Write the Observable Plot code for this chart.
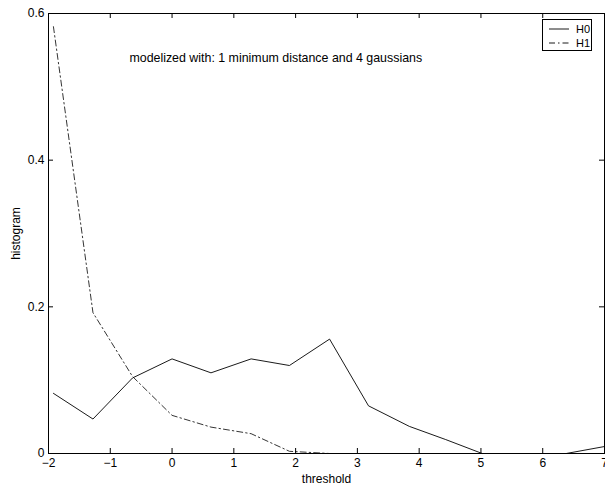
<!DOCTYPE html>
<html>
<head>
<meta charset="utf-8">
<script src="https://cdn.jsdelivr.net/npm/d3@7"></script>
<script src="https://cdn.jsdelivr.net/npm/@observablehq/plot@0.6"></script>
<style>
  body { margin: 0; background: #fff; }
  #wrap { position: relative; width: 605px; height: 487px; font-family: "Liberation Sans", Arial, sans-serif; }
  #legend { position: absolute; left: 542px; top: 19px; width: 48px; height: 30px;
            border: 1px solid #000; background: #fff; font-size: 11px; line-height: 14px; }
  #legend .row { position: absolute; left: 6px; height: 14px; display: flex; align-items: center; white-space: nowrap; }
  #legend svg { display: block; margin-right: 7px; }
</style>
</head>
<body>
<div id="wrap"></div>
<script>
// Threshold positions and the two histograms (H0 solid, H1 dash-dot)
const thresholds = [-1.92, -1.28, -0.64, 0, 0.63, 1.28, 1.9, 2.55, 3.18, 3.84, 4.43, 5.02, 5.7, 6.38, 7.0];
const h0 = [0.082, 0.047, 0.103, 0.129, 0.110, 0.129, 0.120, 0.156, 0.065, 0.037, 0.019, 0, 0, 0, 0.0095];
const h1 = [0.582, 0.192, 0.105, 0.052, 0.036, 0.027, 0.003, 0, 0, 0, 0, 0, 0, 0, 0];

const xTicks = [-2, -1, 0, 1, 2, 3, 4, 5, 6, 7];
const yTicks = [0, 0.2, 0.4, 0.6];
const seriesNames = ["H0", "H1"];
const xLabel = "threshold";
const yLabel = "histogram";
const note = "modelized with: 1 minimum distance and 4 gaussians";

const H1_DASH = "6,3,1.5,3";

const W = 605, H = 487;
const mL = 48, mR = 1, mT = 13, mB = 34;
const frameW = W - mL - mR, frameH = H - mT - mB;
const tickLen = 5;

const h0Data = thresholds.map((t, i) => ({t, v: h0[i]}));
const h1Data = thresholds.map((t, i) => ({t, v: h1[i]}));

const fmtX = d => d < 0 ? "\u2212" + (-d) : String(d);
const fmtY = d => String(d);

const chart = Plot.plot({
  width: W,
  height: H,
  marginLeft: mL,
  marginRight: mR,
  marginTop: mT,
  marginBottom: mB,
  style: {fontFamily: "'Liberation Sans', Arial, sans-serif", fontSize: "12px", background: "#fff", color: "#000", overflow: "hidden"},
  x: {domain: [-2, 7]},
  y: {domain: [0, 0.6]},
  marks: [
    Plot.line(h1Data, {x: "t", y: "v", stroke: "#000", strokeWidth: 0.8, strokeDasharray: H1_DASH}),
    Plot.line(h0Data, {x: "t", y: "v", stroke: "#000", strokeWidth: 0.9}),
    Plot.frame({stroke: "#000", strokeWidth: 1}),
    // inward tick marks on all four sides
    Plot.tickX(xTicks, {x: d => d, insetTop: frameH - tickLen, stroke: "#000"}),
    Plot.tickX(xTicks, {x: d => d, insetBottom: frameH - tickLen, stroke: "#000"}),
    Plot.tickY(yTicks, {y: d => d, insetRight: frameW - tickLen, stroke: "#000"}),
    Plot.tickY(yTicks, {y: d => d, insetLeft: frameW - tickLen, stroke: "#000"}),
    Plot.axisX(xTicks, {anchor: "bottom", tickSize: 0, tickPadding: 5, tickFormat: fmtX, label: null, fill: "#000"}),
    Plot.axisY(yTicks, {anchor: "left", tickSize: 0, tickPadding: 4, tickFormat: fmtY, label: null, fill: "#000"}),
    Plot.text([xLabel], {text: d => d, frameAnchor: "bottom", textAnchor: "middle", lineAnchor: "middle", dy: 26, fill: "#000"}),
    Plot.text([yLabel], {text: d => d, frameAnchor: "left", textAnchor: "middle", lineAnchor: "middle", dx: -32, rotate: -90, fill: "#000"}),
    Plot.text([note], {text: d => d, x: -0.69, y: 0.539, textAnchor: "start", fontSize: 12.4, fill: "#000"})
  ]
});

const wrap = document.getElementById("wrap");
wrap.appendChild(chart);

// Legend box drawn over the upper-right corner of the axes
const legend = document.createElement("div");
legend.id = "legend";
seriesNames.forEach((name, i) => {
  const row = document.createElement("div");
  row.className = "row";
  row.style.top = (2 + i * 14) + "px";
  const dash = i === 1 ? ` stroke-dasharray="${H1_DASH}"` : "";
  row.innerHTML = `<svg width="20" height="4"><line x1="0" y1="2" x2="20" y2="2" stroke="#000" stroke-width="0.9"${dash}/></svg><span>${name}</span>`;
  legend.appendChild(row);
});
wrap.appendChild(legend);
</script>
</body>
</html>
